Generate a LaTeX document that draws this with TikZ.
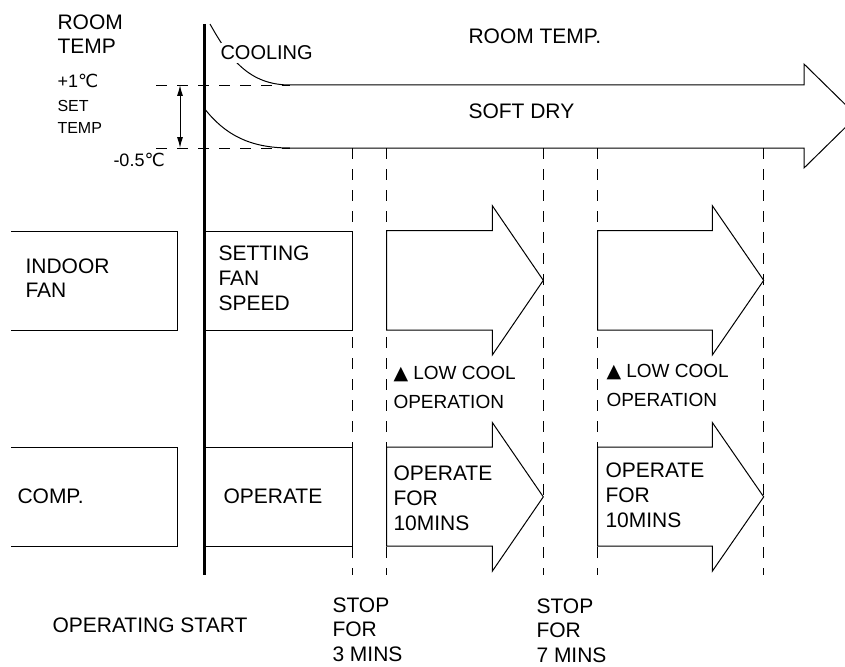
\documentclass[tikz,border=0pt]{standalone}
\usepackage{fontspec}
\setmainfont{Liberation Sans}
\newfontfamily\symfont{DejaVu Sans}
\usetikzlibrary{arrows.meta}
\newcommand{\degc}{{\symfont ℃}}
\newcommand{\uptri}{{\symfont ▲}}

\begin{document}
\begin{tikzpicture}[x=1pt,y=-1pt,line width=1pt,
  lbl/.style={anchor=base west,inner sep=0pt,align=left,font=\fontsize{21}{25}\selectfont},
  smalllbl/.style={lbl,font=\fontsize{16}{21}\selectfont},
  templbl/.style={lbl,font=\fontsize{18}{22}\selectfont},
  notelbl/.style={lbl,font=\fontsize{19}{29}\selectfont},
  guide/.style={line width=0.9pt,dash pattern=on 11pt off 10pt},
  blk/.style={draw,fill=white,line join=miter}]
  \clip (0,0) rectangle (845,666);
  % time marks
  \foreach \x in {352,386.7,543.3,597.7,763.7}
    \draw[guide] (\x,148) -- (\x,575);
  % set temperature band
  \coordinate (bandtop) at (180,85);
  \coordinate (bandbot) at (180,148);
  \draw[guide] (156,85) -- (290,85);
  \draw[guide] (156,148) -- (290,148);
  \draw[{Latex[length=11pt,width=6pt]}-{Latex[length=11pt,width=6pt]}] (bandtop) -- (bandbot);
  % room temperature arrow
  \draw[line join=miter] (210,24) .. controls (230,60) and (250,85) .. (290,85) -- (804,85)
    -- (804,64) -- (857,116) -- (804,168) -- (804,148) -- (290,148)
    .. controls (250,148) and (225,135) .. (204,108);
  \node[lbl,font=\fontsize{20}{24}\selectfont,fill=white,inner ysep=3pt] (cooling) at (220,60) {COOLING};
  % left boxes
  \draw (11,231) -| (177,330) -- (11,330);
  \draw (11,447) -| (177,546) -- (11,546);
  % boxes after start
  \draw[blk] (204,231) rectangle (352,330);
  \draw[blk] (204,447) rectangle (352,546);
  % running arrows
  \foreach \xa/\xb/\xc in {386.7/492.3/543.3,597.7/712.3/763.7}
    \foreach \ya/\yb/\yc/\yd in {205.7/230.7/330/355,422.5/447/546/571.2}
      \draw[blk] (\xa,\yb) -- (\xb,\yb) -- (\xb,\ya) -- (\xc,{(\ya+\yd)/2})
        -- (\xb,\yd) -- (\xb,\yc) -- (\xa,\yc) -- cycle;
  % operating start line
  \draw[line width=3pt] (204,24) -- (204,575);
  % labels (multi-line ones sit on their last baseline)
  \node[lbl,font=\fontsize{21}{24}\selectfont] (roomlbl) at (57,54) {ROOM\\TEMP};
  \node[templbl] (plusone) at (57,88) {+1\degc};
  \node[smalllbl] (setlbl) at (57,133) {SET\\TEMP};
  \node[templbl] (minushalf) at (113,166) {-0.5\degc};
  \node[lbl] (roomtop) at (468,44) {ROOM TEMP.};
  \node[lbl] (softdry) at (468,118) {SOFT DRY};
  \node[lbl,font=\fontsize{21}{24}\selectfont] (fanlbl) at (25,297) {INDOOR\\FAN};
  \node[lbl] (fanset) at (218,310) {SETTING\\FAN\\SPEED};
  \node[lbl] (complbl) at (17,503) {COMP.};
  \node[lbl] (compop) at (223,503) {OPERATE};
  \node[notelbl] (lowa) at (393,408) {\uptri\ LOW COOL\\OPERATION};
  \node[notelbl] (lowb) at (606,406) {\uptri\ LOW COOL\\OPERATION};
  \node[lbl] (runa) at (393,530) {OPERATE\\FOR\\10MINS};
  \node[lbl] (runb) at (605,527) {OPERATE\\FOR\\10MINS};
  \node[lbl] (startlbl) at (52,632) {OPERATING START};
  \node[lbl,font=\fontsize{21}{24.5}\selectfont] (stopa) at (332,661) {STOP\\FOR\\3 MINS};
  \node[lbl,font=\fontsize{21}{24.5}\selectfont] (stopb) at (536,662) {STOP\\FOR\\7 MINS};
\end{tikzpicture}
\end{document}
